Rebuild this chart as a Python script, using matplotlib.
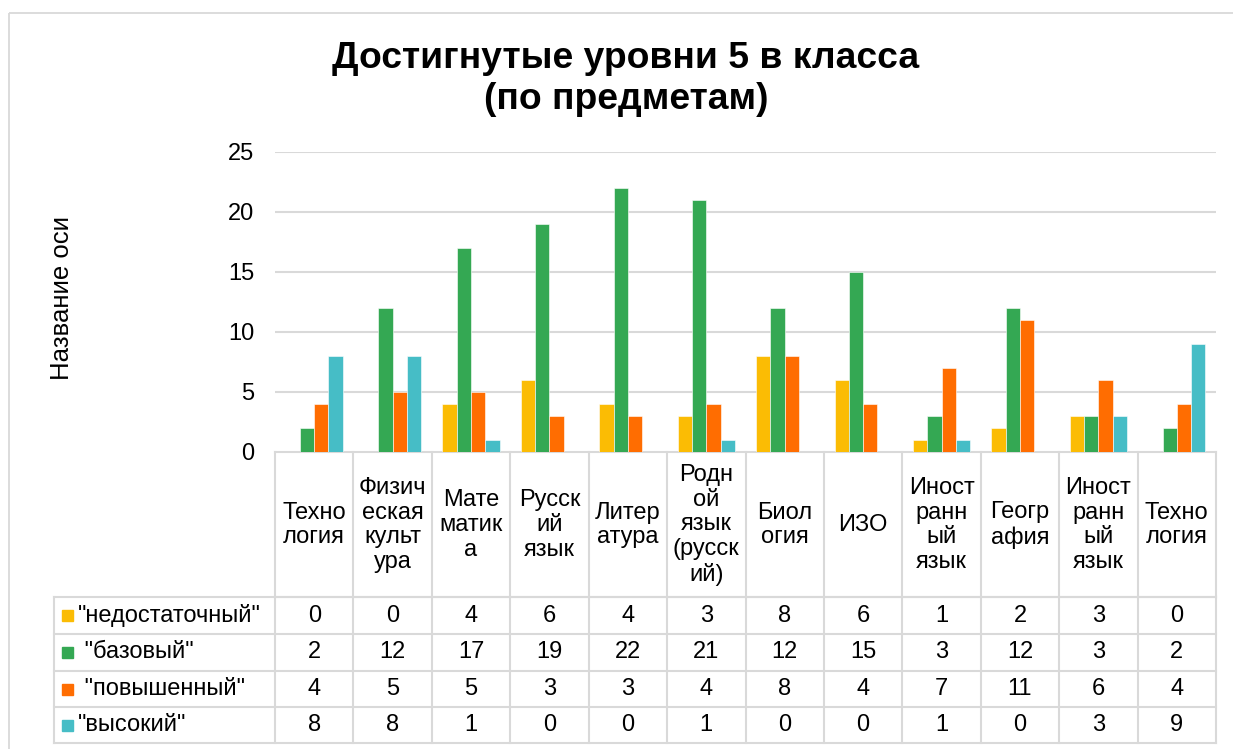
import matplotlib
matplotlib.use("Agg")
import matplotlib.pyplot as plt
from matplotlib.patches import Rectangle
from matplotlib.transforms import blended_transform_factory
import numpy as np

plt.rcParams['font.family'] = ['Liberation Sans', 'DejaVu Sans']

# ---- data ----
subjects = ["Техно\nлогия", "Физич\nеская\nкульт\nура", "Мате\nматик\nа", "Русск\nий\nязык",
            "Литер\nатура", "Родн\nой\nязык\n(русск\nий)", "Биол\nогия", "ИЗО",
            "Иност\nранн\nый\nязык", "Геогр\nафия", "Иност\nранн\nый\nязык", "Техно\nлогия"]
series_names = ['"недостаточный"', ' "базовый"', ' "повышенный"', '"высокий"']
insufficient = [0, 0, 4, 6, 4, 3, 8, 6, 1, 2, 3, 0]
basic        = [2, 12, 17, 19, 22, 21, 12, 15, 3, 12, 3, 2]
advanced     = [4, 5, 5, 3, 3, 4, 8, 4, 7, 11, 6, 4]
high         = [8, 8, 1, 0, 0, 1, 0, 0, 1, 0, 3, 9]
yticks = [0, 5, 10, 15, 20, 25]
title = "Достигнутые уровни 5 в класса\n(по предметам)"
ylabel = "Название оси"

series = [insufficient, basic, advanced, high]
colors = ["#FBBC04", "#34A853", "#FF6D01", "#46BDC6"]
grid_c = "#D9D9D9"
fs = 17

W, H = 1233, 749
fig = plt.figure(figsize=(W / 100, H / 100), dpi=100)

# overlay in pixel coordinates
ov = fig.add_axes([0, 0, 1, 1])
ov.set_xlim(0, W)
ov.set_ylim(H, 0)
ov.axis("off")

# plot axes
x0, x1, y0, y1 = 275, 1216, 452, 152
ax = fig.add_axes([x0 / W, (H - y0) / H, (x1 - x0) / W, (y0 - y1) / H])
n = len(subjects)
ax.set_xlim(-0.5, n - 0.5)
ax.set_ylim(0, 25)
for s in ax.spines.values():
    s.set_visible(False)
ax.set_yticks(yticks)
ax.set_xticks([])
ax.tick_params(axis="y", length=0, pad=15, labelsize=fs)
ax.grid(axis="y", color=grid_c, lw=1.5)
ax.set_axisbelow(True)

bw = 0.182
x = np.arange(n)
for i, (vals, c) in enumerate(zip(series, colors)):
    ax.bar(x + (i - 1.5) * bw, vals, width=bw, color=c, edgecolor="white", linewidth=0.4, zorder=3)

# figure border
ov.add_patch(Rectangle((9, 13), 1300, 800, fill=False, edgecolor=grid_c, lw=1.3))

# title and y label
ov.text(626, 79, title, ha="center", va="center", fontsize=26.8, fontweight="bold",
        linespacing=1.25)
ov.text(62, 298, ylabel, ha="center", va="center", rotation=90, fontsize=18.5)

# table
tr = blended_transform_factory(ax.transData, ov.transData)
row_lines = [452, 597, 634, 671, 707, 743]
lw = 1.5
ov.plot([x0, x1], [452, 452], color=grid_c, lw=lw)
ov.plot([x0, x1], [597, 597], color=grid_c, lw=lw)
for yy in row_lines[1:]:
    ov.plot([54, x1], [yy, yy], color=grid_c, lw=lw)
for b in np.arange(-0.5, n, 1.0):
    ax.plot([b, b], [452, 743], color=grid_c, lw=lw, transform=tr, clip_on=False)
ov.plot([54, 54], [597, 743], color=grid_c, lw=lw)

# category labels
for i, lab in enumerate(subjects):
    ax.text(i, 525, lab, transform=tr, ha="center", va="center", fontsize=fs,
            linespacing=1.16, clip_on=False)

# data rows
for r, (vals, c, name) in enumerate(zip(series, colors, series_names)):
    yc = (row_lines[r + 1] + row_lines[r + 2]) / 2
    ov.add_patch(Rectangle((62, yc - 5.5), 11, 11, color=c))
    ov.text(78, yc, name, ha="left", va="center", fontsize=fs)
    for i, v in enumerate(vals):
        ax.text(i, yc, str(v), transform=tr, ha="center", va="center", fontsize=fs,
                clip_on=False)

fig.savefig("out.png", dpi=100)
